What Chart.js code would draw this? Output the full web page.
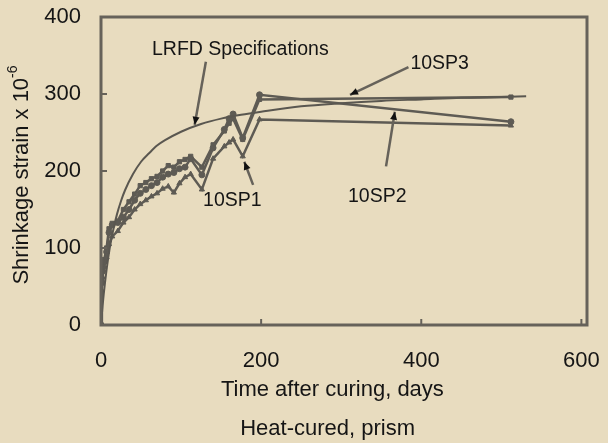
<!DOCTYPE html>
<html>
<head>
<meta charset="utf-8">
<script src="https://cdn.jsdelivr.net/npm/chart.js@4.4.0/dist/chart.umd.min.js"></script>
<style>
  html, body { margin: 0; padding: 0; background: #e8dcbf; }
  #wrap { width: 608px; height: 443px; }
</style>
</head>
<body>
<div id="wrap"><canvas id="shrink-chart"></canvas></div>
<script>
// tick labels
const xTicks = [0, 200, 400, 600];
const yTicks = [0, 100, 200, 300, 400];

// measured days after curing (shared by the three prisms)
const days = [0, 1, 2, 4, 7, 10, 14, 21, 28, 35, 42, 49, 56, 63, 70, 77, 84, 91, 98, 105, 112, 126, 140, 154, 160, 165, 177, 198, 512];

// shrinkage strain x 10^-6
const sp1 = [0, 45, 62, 75, 88, 105, 115, 122, 133, 140, 150, 157, 162, 167, 171, 177, 180, 172, 184, 192, 196, 176, 216, 232, 237, 241, 219, 267, 259];
const sp2 = [0, 55, 70, 82, 95, 120, 130, 133, 140, 150, 162, 171, 176, 181, 185, 192, 196, 198, 203, 205, 216, 195, 230, 254, 268, 274, 243, 299, 264];
const sp3 = [0, 60, 75, 85, 100, 125, 132, 135, 150, 160, 170, 181, 185, 190, 193, 200, 207, 205, 212, 215, 219, 205, 234, 252, 262, 268, 241, 293, 296];

// LRFD prediction curve
const lrfdDays = [0, 2, 5, 10, 15, 20, 25, 30, 40, 50, 60, 70, 80, 100, 125, 150, 175, 200, 250, 300, 350, 400, 450, 500, 531];
const lrfdValues = [0, 25, 55, 94, 122, 144, 161, 175, 196, 212, 223, 233, 240, 251, 261, 268, 273, 277, 284, 288, 291, 293, 295, 296, 297];

const lineColor = "#5e5b54";
const font = "'Liberation Sans', Arial, sans-serif";

function pts(xs, ys) {
  return xs.map((x, i) => ({ x: x, y: ys[i] }));
}

function noPad(s) {
  s.paddingTop = 0;
  s.paddingBottom = 0;
  s.paddingLeft = 0;
  s.paddingRight = 0;
}

// frame, inward ticks, axis titles and the arrow labels
const decorPlugin = {
  id: "decor",
  afterDraw(chart) {
    const ctx = chart.ctx;
    const a = chart.chartArea;
    const xs = chart.scales.x;
    const ys = chart.scales.y;
    ctx.save();

    // frame
    ctx.strokeStyle = "#66625a";
    ctx.lineWidth = 3;
    ctx.strokeRect(a.left, a.top, a.right - a.left, a.bottom - a.top);

    // inward ticks
    ctx.lineWidth = 2;
    xTicks.forEach((v) => {
      const px = xs.getPixelForValue(v);
      ctx.beginPath();
      ctx.moveTo(px, a.bottom);
      ctx.lineTo(px, a.bottom - 6);
      ctx.stroke();
    });
    yTicks.forEach((v) => {
      const py = ys.getPixelForValue(v);
      ctx.beginPath();
      ctx.moveTo(a.left, py);
      ctx.lineTo(a.left + 6, py);
      ctx.stroke();
    });

    // axis titles
    ctx.fillStyle = "#151515";
    ctx.font = "22px " + font;
    ctx.textAlign = "center";
    ctx.textBaseline = "middle";
    ctx.fillText("Time after curing, days", xs.getPixelForValue(289), a.bottom + 65);
    ctx.fillText("Heat-cured, prism", xs.getPixelForValue(283), a.bottom + 104);

    // y title with superscript
    ctx.save();
    ctx.translate(22, (a.top + a.bottom) / 2 + 4);
    ctx.rotate(-Math.PI / 2);
    const main = "Shrinkage strain x 10";
    const w1 = ctx.measureText(main).width;
    ctx.font = "14px " + font;
    const w2 = ctx.measureText("-6").width;
    const start = -(w1 + w2) / 2;
    ctx.textAlign = "left";
    ctx.fillText("-6", start + w1, -9);
    ctx.font = "22px " + font;
    ctx.fillText(main, start, 0);
    ctx.restore();

    // arrow labels (data coordinates)
    const notes = [
      { text: "LRFD Specifications", at: [174, 358], from: [131, 342], to: [117, 260] },
      { text: "10SP3", at: [423, 340], from: [384, 335], to: [311, 299] },
      { text: "10SP2", at: [345, 167], from: [356, 206], to: [367, 277] },
      { text: "10SP1", at: [164, 161], from: [190, 182], to: [179, 212] },
    ];
    ctx.font = "19.5px " + font;
    ctx.textAlign = "center";
    notes.forEach((n) => {
      ctx.fillStyle = "#151515";
      ctx.fillText(n.text, xs.getPixelForValue(n.at[0]), ys.getPixelForValue(n.at[1]));
      const x1 = xs.getPixelForValue(n.from[0]), y1 = ys.getPixelForValue(n.from[1]);
      const x2 = xs.getPixelForValue(n.to[0]), y2 = ys.getPixelForValue(n.to[1]);
      ctx.strokeStyle = "#66625a";
      ctx.lineWidth = 2.5;
      ctx.beginPath();
      ctx.moveTo(x1, y1);
      ctx.lineTo(x2, y2);
      ctx.stroke();
      const ang = Math.atan2(y2 - y1, x2 - x1);
      ctx.fillStyle = "#111";
      ctx.beginPath();
      ctx.moveTo(x2, y2);
      ctx.lineTo(x2 - 8 * Math.cos(ang) + 3.5 * Math.sin(ang), y2 - 8 * Math.sin(ang) - 3.5 * Math.cos(ang));
      ctx.lineTo(x2 - 8 * Math.cos(ang) - 3.5 * Math.sin(ang), y2 - 8 * Math.sin(ang) + 3.5 * Math.cos(ang));
      ctx.closePath();
      ctx.fill();
    });

    ctx.restore();
  },
};

function series(label, values, style) {
  return {
    label: label,
    data: pts(days, values),
    borderColor: lineColor,
    backgroundColor: lineColor,
    borderWidth: 2.5,
    pointStyle: style,
    pointRadius: 3,
    pointBorderWidth: 1,
    tension: 0,
  };
}

new Chart(document.getElementById("shrink-chart"), {
  type: "line",
  data: {
    datasets: [
      {
        label: "LRFD Specifications",
        data: pts(lrfdDays, lrfdValues),
        borderColor: "#5a5750",
        borderWidth: 2,
        pointRadius: 0,
        cubicInterpolationMode: "monotone",
      },
      series("10SP1", sp1, "triangle"),
      series("10SP2", sp2, "circle"),
      series("10SP3", sp3, "rect"),
    ],
  },
  options: {
    responsive: true,
    maintainAspectRatio: false,
    animation: false,
    layout: { padding: { top: 17, right: 21, left: 0, bottom: 0 } },
    plugins: { legend: { display: false }, tooltip: { enabled: false } },
    scales: {
      x: {
        type: "linear",
        min: 0,
        max: 607,
        afterBuildTicks: (s) => { s.ticks = xTicks.map((v) => ({ value: v })); },
        afterFit: (s) => { s.height = 118; noPad(s); },
        grid: { display: false, drawTicks: false },
        border: { display: false },
        ticks: { color: "#151515", font: { size: 22, family: font }, padding: 23, maxRotation: 0 },
      },
      y: {
        min: 0,
        max: 400,
        afterBuildTicks: (s) => { s.ticks = yTicks.map((v) => ({ value: v })); },
        afterFit: (s) => { s.width = 101; noPad(s); },
        grid: { display: false, drawTicks: false },
        border: { display: false },
        ticks: { color: "#151515", font: { size: 22, family: font }, padding: 20 },
      },
    },
  },
  plugins: [decorPlugin],
});
</script>
</body>
</html>
